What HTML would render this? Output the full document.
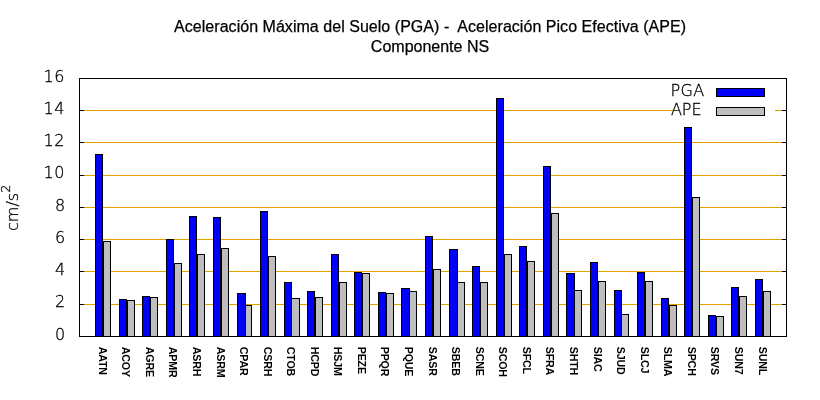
<!DOCTYPE html>
<html lang="es"><head><meta charset="utf-8"><title>Aceleración Máxima del Suelo (PGA) - Aceleración Pico Efectiva (APE)</title>
<style>html,body{margin:0;padding:0;background:#fff;}body{width:820px;height:400px;overflow:hidden;}svg{display:block;}.t{font-family:"Liberation Sans",Arial,sans-serif;font-size:16px;fill:#000;stroke:#000;stroke-width:0.25px;}.d{font-family:"DejaVu Sans Light","DejaVu Sans",sans-serif;font-weight:200;font-size:16px;fill:#000;stroke:#000;stroke-width:0.3px;}.x{font-family:"Liberation Sans",Arial,sans-serif;font-weight:bold;font-size:10.67px;fill:#000;letter-spacing:-0.15px;}</style></head><body>
<svg width="820" height="400" viewBox="0 0 820 400">
<rect x="0" y="0" width="820" height="400" fill="#fff"/>
<text class="t" x="430.1" y="31.5" text-anchor="middle" letter-spacing="0.035" xml:space="preserve">Aceleración Máxima del Suelo (PGA) -  Aceleración Pico Efectiva (APE)</text>
<text class="t" x="430" y="51.5" text-anchor="middle">Componente NS</text>
<g shape-rendering="crispEdges">
<rect x="84" y="304" width="698" height="1" fill="#E69F00"/>
<rect x="80" y="304" width="4" height="1" fill="#000"/>
<rect x="782" y="304" width="4" height="1" fill="#000"/>
<rect x="84" y="271" width="698" height="1" fill="#E69F00"/>
<rect x="80" y="271" width="4" height="1" fill="#000"/>
<rect x="782" y="271" width="4" height="1" fill="#000"/>
<rect x="84" y="239" width="698" height="1" fill="#E69F00"/>
<rect x="80" y="239" width="4" height="1" fill="#000"/>
<rect x="782" y="239" width="4" height="1" fill="#000"/>
<rect x="84" y="207" width="698" height="1" fill="#E69F00"/>
<rect x="80" y="207" width="4" height="1" fill="#000"/>
<rect x="782" y="207" width="4" height="1" fill="#000"/>
<rect x="84" y="175" width="698" height="1" fill="#E69F00"/>
<rect x="80" y="175" width="4" height="1" fill="#000"/>
<rect x="782" y="175" width="4" height="1" fill="#000"/>
<rect x="84" y="142" width="698" height="1" fill="#E69F00"/>
<rect x="80" y="142" width="4" height="1" fill="#000"/>
<rect x="782" y="142" width="4" height="1" fill="#000"/>
<rect x="84" y="110" width="698" height="1" fill="#E69F00"/>
<rect x="80" y="110" width="4" height="1" fill="#000"/>
<rect x="782" y="110" width="4" height="1" fill="#000"/>
<rect x="673" y="82" width="102" height="38" fill="#fff"/>
<rect x="95.5" y="154.5" width="7" height="182" fill="#0000FF" stroke="#000" stroke-width="1"/>
<rect x="103.5" y="241.5" width="7" height="95" fill="#BEBEBE" stroke="#000" stroke-width="1"/>
<rect x="119.5" y="299.5" width="7" height="37" fill="#0000FF" stroke="#000" stroke-width="1"/>
<rect x="127.5" y="300.5" width="7" height="36" fill="#BEBEBE" stroke="#000" stroke-width="1"/>
<rect x="142.5" y="296.5" width="7" height="40" fill="#0000FF" stroke="#000" stroke-width="1"/>
<rect x="150.5" y="297.5" width="7" height="39" fill="#BEBEBE" stroke="#000" stroke-width="1"/>
<rect x="166.5" y="239.5" width="7" height="97" fill="#0000FF" stroke="#000" stroke-width="1"/>
<rect x="174.5" y="263.5" width="7" height="73" fill="#BEBEBE" stroke="#000" stroke-width="1"/>
<rect x="189.5" y="216.5" width="7" height="120" fill="#0000FF" stroke="#000" stroke-width="1"/>
<rect x="197.5" y="254.5" width="7" height="82" fill="#BEBEBE" stroke="#000" stroke-width="1"/>
<rect x="213.5" y="217.5" width="7" height="119" fill="#0000FF" stroke="#000" stroke-width="1"/>
<rect x="221.5" y="248.5" width="7" height="88" fill="#BEBEBE" stroke="#000" stroke-width="1"/>
<rect x="237.5" y="293.5" width="8" height="43" fill="#0000FF" stroke="#000" stroke-width="1"/>
<rect x="245.5" y="305.5" width="6" height="31" fill="#BEBEBE" stroke="#000" stroke-width="1"/>
<rect x="260.5" y="211.5" width="7" height="125" fill="#0000FF" stroke="#000" stroke-width="1"/>
<rect x="268.5" y="256.5" width="7" height="80" fill="#BEBEBE" stroke="#000" stroke-width="1"/>
<rect x="284.5" y="282.5" width="7" height="54" fill="#0000FF" stroke="#000" stroke-width="1"/>
<rect x="291.5" y="298.5" width="8" height="38" fill="#BEBEBE" stroke="#000" stroke-width="1"/>
<rect x="307.5" y="291.5" width="7" height="45" fill="#0000FF" stroke="#000" stroke-width="1"/>
<rect x="315.5" y="297.5" width="7" height="39" fill="#BEBEBE" stroke="#000" stroke-width="1"/>
<rect x="331.5" y="254.5" width="7" height="82" fill="#0000FF" stroke="#000" stroke-width="1"/>
<rect x="339.5" y="282.5" width="7" height="54" fill="#BEBEBE" stroke="#000" stroke-width="1"/>
<rect x="354.5" y="272.5" width="7" height="64" fill="#0000FF" stroke="#000" stroke-width="1"/>
<rect x="362.5" y="273.5" width="7" height="63" fill="#BEBEBE" stroke="#000" stroke-width="1"/>
<rect x="378.5" y="292.5" width="7" height="44" fill="#0000FF" stroke="#000" stroke-width="1"/>
<rect x="386.5" y="293.5" width="7" height="43" fill="#BEBEBE" stroke="#000" stroke-width="1"/>
<rect x="401.5" y="288.5" width="8" height="48" fill="#0000FF" stroke="#000" stroke-width="1"/>
<rect x="409.5" y="291.5" width="7" height="45" fill="#BEBEBE" stroke="#000" stroke-width="1"/>
<rect x="425.5" y="236.5" width="7" height="100" fill="#0000FF" stroke="#000" stroke-width="1"/>
<rect x="433.5" y="269.5" width="7" height="67" fill="#BEBEBE" stroke="#000" stroke-width="1"/>
<rect x="449.5" y="249.5" width="8" height="87" fill="#0000FF" stroke="#000" stroke-width="1"/>
<rect x="457.5" y="282.5" width="7" height="54" fill="#BEBEBE" stroke="#000" stroke-width="1"/>
<rect x="472.5" y="266.5" width="7" height="70" fill="#0000FF" stroke="#000" stroke-width="1"/>
<rect x="480.5" y="282.5" width="7" height="54" fill="#BEBEBE" stroke="#000" stroke-width="1"/>
<rect x="496.5" y="98.5" width="7" height="238" fill="#0000FF" stroke="#000" stroke-width="1"/>
<rect x="504.5" y="254.5" width="7" height="82" fill="#BEBEBE" stroke="#000" stroke-width="1"/>
<rect x="519.5" y="246.5" width="7" height="90" fill="#0000FF" stroke="#000" stroke-width="1"/>
<rect x="527.5" y="261.5" width="7" height="75" fill="#BEBEBE" stroke="#000" stroke-width="1"/>
<rect x="543.5" y="166.5" width="7" height="170" fill="#0000FF" stroke="#000" stroke-width="1"/>
<rect x="551.5" y="213.5" width="7" height="123" fill="#BEBEBE" stroke="#000" stroke-width="1"/>
<rect x="566.5" y="273.5" width="8" height="63" fill="#0000FF" stroke="#000" stroke-width="1"/>
<rect x="574.5" y="290.5" width="7" height="46" fill="#BEBEBE" stroke="#000" stroke-width="1"/>
<rect x="590.5" y="262.5" width="7" height="74" fill="#0000FF" stroke="#000" stroke-width="1"/>
<rect x="598.5" y="281.5" width="7" height="55" fill="#BEBEBE" stroke="#000" stroke-width="1"/>
<rect x="614.5" y="290.5" width="7" height="46" fill="#0000FF" stroke="#000" stroke-width="1"/>
<rect x="621.5" y="314.5" width="7" height="22" fill="#BEBEBE" stroke="#000" stroke-width="1"/>
<rect x="637.5" y="272.5" width="7" height="64" fill="#0000FF" stroke="#000" stroke-width="1"/>
<rect x="645.5" y="281.5" width="7" height="55" fill="#BEBEBE" stroke="#000" stroke-width="1"/>
<rect x="661.5" y="298.5" width="7" height="38" fill="#0000FF" stroke="#000" stroke-width="1"/>
<rect x="669.5" y="305.5" width="7" height="31" fill="#BEBEBE" stroke="#000" stroke-width="1"/>
<rect x="684.5" y="127.5" width="7" height="209" fill="#0000FF" stroke="#000" stroke-width="1"/>
<rect x="692.5" y="197.5" width="7" height="139" fill="#BEBEBE" stroke="#000" stroke-width="1"/>
<rect x="708.5" y="315.5" width="7" height="21" fill="#0000FF" stroke="#000" stroke-width="1"/>
<rect x="716.5" y="316.5" width="7" height="20" fill="#BEBEBE" stroke="#000" stroke-width="1"/>
<rect x="731.5" y="287.5" width="7" height="49" fill="#0000FF" stroke="#000" stroke-width="1"/>
<rect x="739.5" y="296.5" width="7" height="40" fill="#BEBEBE" stroke="#000" stroke-width="1"/>
<rect x="755.5" y="279.5" width="7" height="57" fill="#0000FF" stroke="#000" stroke-width="1"/>
<rect x="763.5" y="291.5" width="7" height="45" fill="#BEBEBE" stroke="#000" stroke-width="1"/>
<rect x="716.5" y="88.5" width="48" height="8" fill="#0000FF" stroke="#000" stroke-width="1"/>
<rect x="716.5" y="107.5" width="48" height="8" fill="#BEBEBE" stroke="#000" stroke-width="1"/>
<rect x="79.5" y="78.5" width="707" height="258" fill="none" stroke="#000" stroke-width="1"/>
</g>
<text class="d" x="65.2" y="339.70" text-anchor="end">0</text>
<text class="d" x="65.2" y="307.45" text-anchor="end">2</text>
<text class="d" x="65.2" y="275.20" text-anchor="end">4</text>
<text class="d" x="65.2" y="242.95" text-anchor="end">6</text>
<text class="d" x="65.2" y="210.70" text-anchor="end">8</text>
<text class="d" x="65.1" y="178.45" text-anchor="end" letter-spacing="0.6">10</text>
<text class="d" x="65.1" y="146.20" text-anchor="end" letter-spacing="0.6">12</text>
<text class="d" x="65.1" y="113.95" text-anchor="end" letter-spacing="0.6">14</text>
<text class="d" x="65.1" y="81.70" text-anchor="end" letter-spacing="0.6">16</text>
<text class="d" x="670.4" y="96.0" letter-spacing="0.45">PGA</text>
<text class="d" x="671" y="115.0" letter-spacing="-0.1">APE</text>
<text class="d" transform="translate(17.5,207.8) rotate(-90)" text-anchor="middle">cm/s<tspan font-size="12.8px" dy="-7.6">2</tspan></text>
<text class="x" transform="translate(98.67,346.7) rotate(90)">AATN</text>
<text class="x" transform="translate(122.23,346.7) rotate(90)">ACOY</text>
<text class="x" transform="translate(145.80,346.7) rotate(90)">AGRE</text>
<text class="x" transform="translate(169.37,346.7) rotate(90)">APMR</text>
<text class="x" transform="translate(192.93,346.7) rotate(90)">ASRH</text>
<text class="x" transform="translate(216.50,346.7) rotate(90)">ASRM</text>
<text class="x" transform="translate(240.07,346.7) rotate(90)">CPAR</text>
<text class="x" transform="translate(263.63,346.7) rotate(90)">CSRH</text>
<text class="x" transform="translate(287.20,346.7) rotate(90)">CTOB</text>
<text class="x" transform="translate(310.77,346.7) rotate(90)">HCPD</text>
<text class="x" transform="translate(334.33,346.7) rotate(90)">HSJM</text>
<text class="x" transform="translate(357.90,346.7) rotate(90)">PEZE</text>
<text class="x" transform="translate(381.47,346.7) rotate(90)">PPQR</text>
<text class="x" transform="translate(405.03,346.7) rotate(90)">PQUE</text>
<text class="x" transform="translate(428.60,346.7) rotate(90)">SASR</text>
<text class="x" transform="translate(452.17,346.7) rotate(90)">SBEB</text>
<text class="x" transform="translate(475.73,346.7) rotate(90)">SCNE</text>
<text class="x" transform="translate(499.30,346.7) rotate(90)">SCOH</text>
<text class="x" transform="translate(522.87,346.7) rotate(90)">SFCL</text>
<text class="x" transform="translate(546.43,346.7) rotate(90)">SFRA</text>
<text class="x" transform="translate(570.00,346.7) rotate(90)">SHTH</text>
<text class="x" transform="translate(593.57,346.7) rotate(90)">SIAC</text>
<text class="x" transform="translate(617.13,346.7) rotate(90)">SJUD</text>
<text class="x" transform="translate(640.70,346.7) rotate(90)">SLCJ</text>
<text class="x" transform="translate(664.27,346.7) rotate(90)">SLMA</text>
<text class="x" transform="translate(687.83,346.7) rotate(90)">SPCH</text>
<text class="x" transform="translate(711.40,346.7) rotate(90)">SRVS</text>
<text class="x" transform="translate(734.97,346.7) rotate(90)">SUN7</text>
<text class="x" transform="translate(758.53,346.7) rotate(90)">SUNL</text>
</svg></body></html>
